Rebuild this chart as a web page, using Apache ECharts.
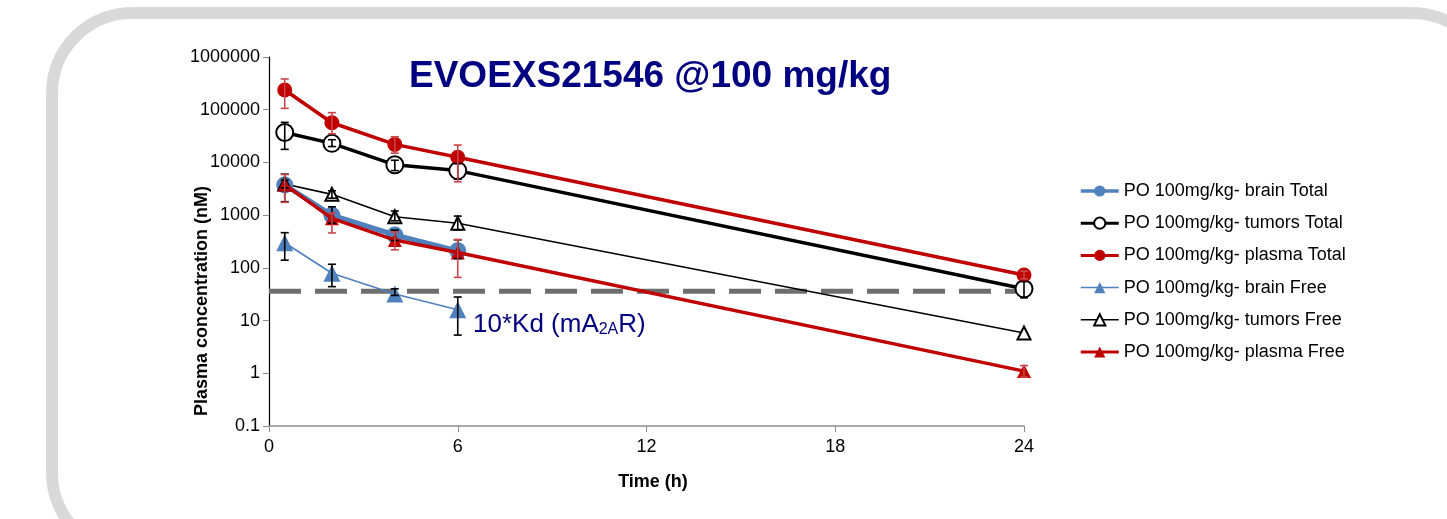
<!DOCTYPE html>
<html>
<head>
<meta charset="utf-8">
<script src="https://cdn.jsdelivr.net/npm/echarts@6/dist/echarts.min.js"></script>
<style>
  html, body { margin: 0; padding: 0; background: #fff; }
  #chart { width: 1447px; height: 519px; }
</style>
</head>
<body>
<div id="chart"></div>
<script>
// sampling times (h)
const TIMES = [0.5, 2, 4, 6, 24];

// mean concentrations (nM), null = not measured
const brainTotal  = [3730, 1000, 420, 210, null];
const tumorsTotal = [37000, 23000, 9000, 7000, 40];
const plasmaTotal = [236000, 56600, 22000, 12500, 73];
const brainFree   = [300, 79, 32, 16, null];
const tumorsFree  = [3900, 2480, 930, 700, 5.8];
const plasmaFree  = [3800, 870, 337, 195, 1.1];

// error bar ranges [low, high]
const brainTotalErr  = [[1800, 6000], [700, 1440], [330, 520], [150, 340], null];
const tumorsTotalErr = [[17700, 57500], [20000, 27000], [7000, 11000], [4800, 9500], [27, 55]];
const plasmaTotalErr = [[106000, 383000], [35000, 88000], [15000, 30700], [4300, 21400], [62, 86]];
const brainFreeErr   = [[140, 465], [44, 117], [30, 40], [5.3, 28], null];
const tumorsFreeErr  = [[3300, 4600], [2100, 2900], [780, 1200], [525, 960], null];
const plasmaFreeErr  = [[1750, 5900], [460, 1100], [220, 480], [66, 346], [0.85, 1.4]];

const KD_LEVEL = 36;   // 10*Kd threshold (nM)
const KD_X = [0, 24.3];

const X_TICKS = { min: 0, max: 24, interval: 6 };

const BLUE = '#4f81bd';
const RED = '#c00000';
const ERR_RED = '#c8474a';
const BLACK = '#000000';
const NAVY = '#000080';

const pts = vals => TIMES.map((t, i) => vals[i] == null ? null : [t, vals[i]]).filter(Boolean);
const errPts = errs => TIMES.map((t, i) => errs[i] ? [t, errs[i][0], errs[i][1]] : null).filter(Boolean);

function errSeries(errs, color) {
  return {
    type: 'custom',
    data: errPts(errs),
    z: 5,
    silent: true,
    encode: { x: 0, y: [1, 2] },
    renderItem: function (params, api) {
      const lo = api.coord([api.value(0), api.value(1)]);
      const hi = api.coord([api.value(0), api.value(2)]);
      const w = 4;
      const st = { stroke: color, lineWidth: 1.6 };
      return {
        type: 'group',
        children: [
          { type: 'line', shape: { x1: lo[0], y1: lo[1], x2: hi[0], y2: hi[1] }, style: st },
          { type: 'line', shape: { x1: lo[0] - w, y1: lo[1], x2: lo[0] + w, y2: lo[1] }, style: st },
          { type: 'line', shape: { x1: hi[0] - w, y1: hi[1], x2: hi[0] + w, y2: hi[1] }, style: st }
        ]
      };
    }
  };
}

const NAMES = [
  'PO 100mg/kg- brain Total',
  'PO 100mg/kg- tumors Total',
  'PO 100mg/kg- plasma Total',
  'PO 100mg/kg- brain Free',
  'PO 100mg/kg- tumors Free',
  'PO 100mg/kg- plasma Free'
];
const LEGEND_LINE_W = [3.5, 3, 3, 1.5, 1.5, 3];

const chart = echarts.init(document.getElementById('chart'));

chart.setOption({
  backgroundColor: '#fff',
  animation: false,
  textStyle: { fontFamily: 'Liberation Sans, Arial, sans-serif' },
  graphic: [
    {
      type: 'rect',
      shape: { x: 52, y: 13, width: 1440, height: 540, r: 80 },
      style: { fill: 'none', stroke: '#d9d9d9', lineWidth: 12 },
      z: -10
    },
    {
      type: 'text',
      left: 409, top: 58,
      style: {
        text: 'EVOEXS21546 @100 mg/kg',
        fill: NAVY,
        font: 'bold 37px "Liberation Sans", Arial, sans-serif'
      }
    },
    {
      type: 'text',
      x: 202, y: 301, rotation: Math.PI / 2,
      style: {
        text: 'Plasma concentration (nM)',
        fill: '#000',
        align: 'center', verticalAlign: 'middle',
        font: 'bold 18px "Liberation Sans", Arial, sans-serif'
      }
    },
    {
      type: 'text',
      x: 653, y: 482,
      style: {
        text: 'Time (h)',
        fill: '#000',
        align: 'center', verticalAlign: 'middle',
        font: 'bold 18px "Liberation Sans", Arial, sans-serif'
      }
    },
    {
      type: 'text',
      left: 473, top: 312,
      style: {
        text: '{a|10*Kd (mA}{s|2A}{a|R)}',
        rich: {
          a: { fill: NAVY, fontSize: 26, fontFamily: 'Liberation Sans', verticalAlign: 'bottom', lineHeight: 30 },
          s: { fill: NAVY, fontSize: 16, fontFamily: 'Liberation Sans', verticalAlign: 'bottom', lineHeight: 24 }
        }
      }
    }
  ],
  grid: { left: 269, right: 423, top: 57, bottom: 93, containLabel: false },
  legend: {
    data: NAMES.map((n, i) => ({ name: n, lineStyle: { width: LEGEND_LINE_W[i] } })),
    orient: 'vertical',
    left: 1074,
    top: 177,
    itemWidth: 38,
    itemHeight: 14,
    itemGap: 14.2,
    textStyle: { fontSize: 18, color: '#000', fontFamily: 'Liberation Sans' }
  },
  xAxis: {
    type: 'value',
    min: X_TICKS.min, max: X_TICKS.max, interval: X_TICKS.interval,
    axisLine: { lineStyle: { color: '#8c8c8c', width: 1.5 } },
    axisTick: { show: true, length: 6, lineStyle: { color: '#8c8c8c' } },
    axisLabel: { fontSize: 18, color: '#000', margin: 12 },
    splitLine: { show: false }
  },
  yAxis: {
    type: 'log',
    logBase: 10,
    min: 0.1, max: 1000000,
    splitNumber: 7,
    axisLine: { show: true, lineStyle: { color: '#000', width: 1.2 } },
    axisTick: { show: true, length: 6, lineStyle: { color: '#8c8c8c' } },
    axisLabel: {
      fontSize: 18, color: '#000', margin: 9,
      formatter: v => String(+Number(v).toPrecision(6))
    },
    splitLine: { show: false }
  },
  series: [
    {
      name: NAMES[0], type: 'line', data: pts(brainTotal), z: 3,
      symbol: 'circle', symbolSize: 17,
      lineStyle: { color: BLUE, width: 5 },
      itemStyle: { color: BLUE }
    },
    {
      name: NAMES[1], type: 'line', data: pts(tumorsTotal), z: 3,
      symbol: 'emptyCircle', symbolSize: 17,
      lineStyle: { color: BLACK, width: 3.5 },
      itemStyle: { color: BLACK, borderWidth: 2 }
    },
    {
      name: NAMES[2], type: 'line', data: pts(plasmaTotal), z: 3,
      symbol: 'circle', symbolSize: 15,
      lineStyle: { color: RED, width: 3.5 },
      itemStyle: { color: RED }
    },
    {
      name: NAMES[3], type: 'line', data: pts(brainFree), z: 3,
      symbol: 'triangle', symbolSize: 17,
      lineStyle: { color: BLUE, width: 1.6 },
      itemStyle: { color: BLUE }
    },
    {
      name: NAMES[4], type: 'line', data: pts(tumorsFree), z: 3,
      symbol: 'emptyTriangle', symbolSize: 13,
      lineStyle: { color: BLACK, width: 1.6 },
      itemStyle: { color: BLACK, borderWidth: 2 }
    },
    {
      name: NAMES[5], type: 'line', data: pts(plasmaFree), z: 4,
      symbol: 'triangle', symbolSize: 14,
      lineStyle: { color: RED, width: 3.5 },
      itemStyle: { color: RED }
    },
    errSeries(brainTotalErr, BLACK),
    errSeries(tumorsTotalErr, BLACK),
    errSeries(plasmaTotalErr, ERR_RED),
    errSeries(brainFreeErr, BLACK),
    errSeries(tumorsFreeErr, BLACK),
    errSeries(plasmaFreeErr, ERR_RED),
    {
      name: 'kd', type: 'line', data: KD_X.map(x => [x, KD_LEVEL]),
      symbol: 'none', silent: true, clip: false, z: 2,
      lineStyle: { color: '#6e6e6e', width: 5, type: [32, 14] }
    }
  ]
});
</script>
</body>
</html>
